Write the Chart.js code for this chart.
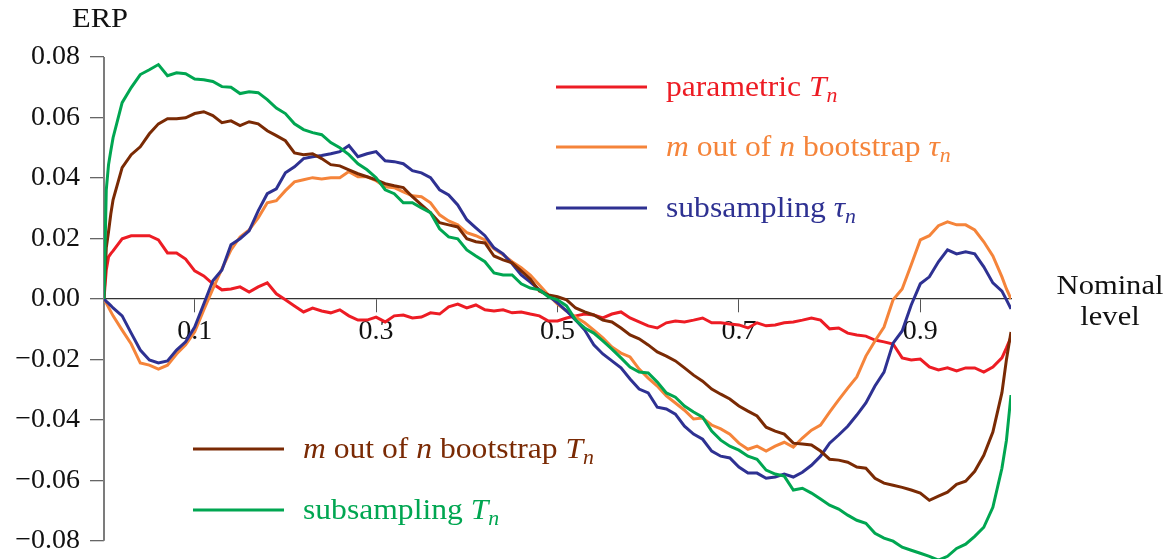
<!DOCTYPE html>
<html>
<head>
<meta charset="utf-8">
<script src="https://cdn.jsdelivr.net/npm/chart.js@4/dist/chart.umd.min.js"></script>
<style>
  html, body { margin: 0; padding: 0; overflow: hidden; background: #fff; }
</style>
</head>
<body>
<canvas id="erpChart" width="1172" height="600"></canvas>
<script>
  // nominal levels: finer steps at both ends where the curves move fast
  const levels = [0, 0.0025, 0.005, 0.0075]
    .concat(Array.from({ length: 99 }, (_, i) => (i + 1) / 100))
    .concat([0.995, 1]);

  const parametricT = [0, 0.0096, 0.0139, 0.0150,
    0.0159, 0.0199, 0.0209, 0.0209, 0.0209, 0.0195, 0.0152, 0.0152, 0.0132, 0.0093,
    0.0076, 0.0050, 0.0030, 0.0033, 0.0040, 0.0023, 0.0040, 0.0053, 0.0017, -0.0003,
    -0.0023, -0.0043, -0.0030, -0.0040, -0.0046, -0.0036, -0.0056, -0.0070, -0.0070, -0.0060,
    -0.0076, -0.0056, -0.0053, -0.0063, -0.0060, -0.0046, -0.0050, -0.0026, -0.0017, -0.0030,
    -0.0020, -0.0036, -0.0040, -0.0036, -0.0046, -0.0043, -0.0050, -0.0056, -0.0073, -0.0073,
    -0.0063, -0.0056, -0.0050, -0.0053, -0.0063, -0.0050, -0.0043, -0.0063, -0.0076, -0.0089,
    -0.0096, -0.0079, -0.0073, -0.0076, -0.0070, -0.0063, -0.0079, -0.0079, -0.0083, -0.0086,
    -0.0096, -0.0079, -0.0089, -0.0086, -0.0079, -0.0076, -0.0070, -0.0063, -0.0070, -0.0099,
    -0.0096, -0.0113, -0.0119, -0.0123, -0.0136, -0.0142, -0.0149, -0.0195, -0.0202, -0.0199,
    -0.0225, -0.0235, -0.0228, -0.0238, -0.0228, -0.0228, -0.0242, -0.0225, -0.0195,
    -0.0162, -0.0126];

  const bootstrapTau = [0, -0.0014, -0.0028, -0.0042,
    -0.0056, -0.0103, -0.0149, -0.0212, -0.0219, -0.0232, -0.0219, -0.0182, -0.0152, -0.0109,
    -0.0036, 0.0033, 0.0099, 0.0162, 0.0205, 0.0228, 0.0268, 0.0318, 0.0325, 0.0358,
    0.0387, 0.0394, 0.0401, 0.0397, 0.0401, 0.0401, 0.0421, 0.0404, 0.0404, 0.0391,
    0.0371, 0.0368, 0.0354, 0.0341, 0.0338, 0.0318, 0.0278, 0.0258, 0.0245, 0.0219,
    0.0209, 0.0195, 0.0166, 0.0146, 0.0123, 0.0103, 0.0079, 0.0046, 0.0013, -0.0017,
    -0.0040, -0.0060, -0.0079, -0.0103, -0.0129, -0.0159, -0.0179, -0.0192, -0.0232, -0.0262,
    -0.0288, -0.0321, -0.0344, -0.0368, -0.0397, -0.0394, -0.0417, -0.0430, -0.0447, -0.0477,
    -0.0497, -0.0487, -0.0503, -0.0487, -0.0474, -0.0490, -0.0460, -0.0434, -0.0417, -0.0374,
    -0.0334, -0.0295, -0.0258, -0.0189, -0.0139, -0.0093, -0.0003, 0.0033, 0.0113, 0.0195,
    0.0209, 0.0242, 0.0255, 0.0245, 0.0245, 0.0228, 0.0189, 0.0142, 0.0073,
    0.0033, 0];

  const subsamplingTau = [0, -0.0008, -0.0015, -0.0022,
    -0.0030, -0.0056, -0.0113, -0.0169, -0.0202, -0.0212, -0.0205, -0.0169, -0.0142, -0.0093,
    -0.0017, 0.0060, 0.0096, 0.0179, 0.0199, 0.0225, 0.0291, 0.0348, 0.0364, 0.0417,
    0.0437, 0.0464, 0.0470, 0.0474, 0.0480, 0.0487, 0.0507, 0.0470, 0.0480, 0.0487,
    0.0457, 0.0454, 0.0447, 0.0424, 0.0417, 0.0401, 0.0361, 0.0344, 0.0311, 0.0262,
    0.0235, 0.0209, 0.0169, 0.0149, 0.0116, 0.0079, 0.0056, 0.0030, 0.0010, -0.0013,
    -0.0040, -0.0070, -0.0103, -0.0152, -0.0182, -0.0205, -0.0228, -0.0265, -0.0298, -0.0311,
    -0.0358, -0.0364, -0.0381, -0.0421, -0.0447, -0.0464, -0.0503, -0.0520, -0.0526, -0.0556,
    -0.0576, -0.0576, -0.0593, -0.0589, -0.0579, -0.0589, -0.0573, -0.0550, -0.0520, -0.0477,
    -0.0450, -0.0421, -0.0384, -0.0344, -0.0288, -0.0242, -0.0146, -0.0106, -0.0020, 0.0050,
    0.0073, 0.0123, 0.0162, 0.0149, 0.0156, 0.0149, 0.0106, 0.0053, 0.0026,
    -0.0003, -0.0033];

  const bootstrapT = [0, 0.0169, 0.0222, 0.0281,
    0.0328, 0.0434, 0.0477, 0.0503, 0.0546, 0.0579, 0.0596, 0.0596, 0.0599, 0.0613,
    0.0619, 0.0606, 0.0583, 0.0589, 0.0573, 0.0586, 0.0579, 0.0556, 0.0540, 0.0523,
    0.0483, 0.0477, 0.0480, 0.0464, 0.0444, 0.0440, 0.0427, 0.0414, 0.0404, 0.0394,
    0.0381, 0.0374, 0.0368, 0.0338, 0.0311, 0.0285, 0.0252, 0.0245, 0.0238, 0.0199,
    0.0189, 0.0185, 0.0142, 0.0129, 0.0119, 0.0093, 0.0066, 0.0026, 0.0013, 0.0007,
    -0.0003, -0.0030, -0.0043, -0.0053, -0.0070, -0.0076, -0.0096, -0.0119, -0.0132, -0.0152,
    -0.0175, -0.0189, -0.0205, -0.0228, -0.0252, -0.0272, -0.0298, -0.0315, -0.0331, -0.0354,
    -0.0371, -0.0387, -0.0424, -0.0437, -0.0447, -0.0477, -0.0480, -0.0483, -0.0503, -0.0530,
    -0.0533, -0.0540, -0.0556, -0.0560, -0.0593, -0.0609, -0.0616, -0.0623, -0.0632, -0.0642,
    -0.0666, -0.0652, -0.0639, -0.0613, -0.0603, -0.0570, -0.0517, -0.0440, -0.0310,
    -0.0200, -0.0109];

  const subsamplingT = [0, 0.0360, 0.0444, 0.0490,
    0.0533, 0.0649, 0.0699, 0.0742, 0.0758, 0.0775, 0.0738, 0.0748, 0.0745, 0.0727,
    0.0725, 0.0719, 0.0702, 0.0700, 0.0679, 0.0685, 0.0682, 0.0659, 0.0631, 0.0613,
    0.0579, 0.0560, 0.0550, 0.0543, 0.0517, 0.0500, 0.0477, 0.0447, 0.0427, 0.0401,
    0.0361, 0.0348, 0.0318, 0.0318, 0.0301, 0.0285, 0.0232, 0.0205, 0.0199, 0.0162,
    0.0142, 0.0123, 0.0086, 0.0079, 0.0079, 0.0050, 0.0036, 0.0030, 0.0007, -0.0003,
    -0.0023, -0.0070, -0.0096, -0.0113, -0.0139, -0.0166, -0.0195, -0.0225, -0.0242, -0.0245,
    -0.0275, -0.0311, -0.0325, -0.0354, -0.0374, -0.0391, -0.0437, -0.0467, -0.0487, -0.0500,
    -0.0520, -0.0530, -0.0566, -0.0579, -0.0586, -0.0632, -0.0626, -0.0642, -0.0662, -0.0682,
    -0.0695, -0.0715, -0.0732, -0.0742, -0.0775, -0.0791, -0.0801, -0.0821, -0.0831, -0.0841,
    -0.0851, -0.0864, -0.0851, -0.0825, -0.0811, -0.0785, -0.0755, -0.0689, -0.0560,
    -0.0467, -0.0318];

  const xTicks = [0.1, 0.3, 0.5, 0.7, 0.9];
  const yTicks = [-0.08, -0.06, -0.04, -0.02, 0, 0.02, 0.04, 0.06, 0.08];

  // legend text pieces: i = italic, s = subscript
  const seriesLabels = [
    [{ t: 'parametric ' }, { t: 'T', i: 1 }, { t: 'n', i: 1, s: 1 }],
    [{ t: 'm', i: 1 }, { t: ' out of ' }, { t: 'n', i: 1 }, { t: ' bootstrap ' }, { t: '\u03C4', i: 1 }, { t: 'n', i: 1, s: 1 }],
    [{ t: 'subsampling ' }, { t: '\u03C4', i: 1 }, { t: 'n', i: 1, s: 1 }],
    [{ t: 'm', i: 1 }, { t: ' out of ' }, { t: 'n', i: 1 }, { t: ' bootstrap ' }, { t: 'T', i: 1 }, { t: 'n', i: 1, s: 1 }],
    [{ t: 'subsampling ' }, { t: 'T', i: 1 }, { t: 'n', i: 1, s: 1 }]
  ];
  const seriesValues = [parametricT, bootstrapTau, subsamplingTau, bootstrapT, subsamplingT];
  const seriesColors = ['#ED1C24', '#F5843A', '#2E3192', '#7A2A04', '#00A651'];
  // green on top, red at the bottom
  const drawOrder = [4, 3, 2, 1, 0];

  const FONT = '"Liberation Serif", "Times New Roman", serif';
  const STRETCH = 1.09; // widen the serif a little

  function drawRich(ctx, x, y, parts, color) {
    ctx.save();
    ctx.translate(x, y);
    ctx.scale(STRETCH, 1);
    ctx.fillStyle = color;
    ctx.textAlign = 'left';
    ctx.textBaseline = 'alphabetic';
    let cx = 0;
    parts.forEach(p => {
      ctx.font = (p.i ? 'italic ' : '') + (p.s ? 20 : 29) + 'px ' + FONT;
      ctx.fillText(p.t, cx, p.s ? 6 : 0);
      cx += ctx.measureText(p.t).width;
    });
    ctx.restore();
  }

  function drawCentered(ctx, text, x, y) {
    ctx.save();
    ctx.translate(x, y);
    ctx.scale(STRETCH, 1);
    ctx.fillText(text, 0, 0);
    ctx.restore();
  }

  const extras = {
    id: 'extras',
    beforeDatasetsDraw(chart) {
      // vertical axis only spans the labelled range
      const { ctx, chartArea, scales: { y } } = chart;
      ctx.save();
      ctx.strokeStyle = '#7c7c7c';
      ctx.lineWidth = 2;
      ctx.beginPath();
      ctx.moveTo(chartArea.left, y.getPixelForValue(yTicks[yTicks.length - 1]));
      ctx.lineTo(chartArea.left, y.getPixelForValue(yTicks[0]));
      ctx.stroke();
      ctx.restore();
    },
    afterDraw(chart) {
      const { ctx } = chart;
      ctx.save();
      ctx.fillStyle = '#111';
      ctx.font = '28px ' + FONT;
      ctx.textAlign = 'center';
      ctx.textBaseline = 'alphabetic';
      drawCentered(ctx, 'ERP', 100, 27);
      drawCentered(ctx, 'Nominal', 1110, 294);
      drawCentered(ctx, 'level', 1110, 325);

      const slots = [
        { x: 556, y: 87 }, { x: 556, y: 147 }, { x: 556, y: 208 },
        { x: 193, y: 449 }, { x: 193, y: 510 }
      ];
      chart.data.datasets.forEach((ds, i) => {
        const s = slots[i];
        ctx.strokeStyle = ds.borderColor;
        ctx.lineWidth = 3;
        ctx.beginPath();
        ctx.moveTo(s.x, s.y);
        ctx.lineTo(s.x + 91, s.y);
        ctx.stroke();
        drawRich(ctx, s.x + 110, s.y + 9, seriesLabels[i], ds.borderColor);
      });
      ctx.restore();
    }
  };

  new Chart(document.getElementById('erpChart').getContext('2d'), {
    type: 'line',
    data: {
      labels: levels,
      datasets: seriesValues.map((vals, i) => ({
        label: seriesLabels[i].map(p => p.t).join(''),
        data: vals.map((v, j) => ({ x: levels[j], y: v })),
        borderColor: seriesColors[i],
        borderWidth: 3,
        pointRadius: 0,
        tension: 0,
        fill: false,
        order: drawOrder[i]
      }))
    },
    options: {
      responsive: false,
      animation: false,
      layout: { padding: { left: 0, right: 161, top: 57, bottom: 41 } },
      plugins: { legend: { display: false }, tooltip: { enabled: false } },
      scales: {
        x: {
          type: 'linear',
          min: 0,
          max: 1,
          position: { y: 0 },
          afterBuildTicks: s => { s.ticks = xTicks.map(v => ({ value: v })); },
          grid: { drawOnChartArea: false, drawTicks: true, tickLength: 13, color: '#555', lineWidth: 1 },
          border: { display: true, color: '#333', width: 1.3 },
          ticks: {
            color: '#111',
            font: { family: FONT, size: 28 },
            padding: 3,
            maxRotation: 0,
            callback: v => v.toFixed(1)
          }
        },
        y: {
          type: 'linear',
          min: -0.086,
          max: 0.08,
          afterBuildTicks: s => { s.ticks = yTicks.map(v => ({ value: v })); },
          afterFit: s => { s.width = 104; },
          grid: { drawOnChartArea: false, drawTicks: true, tickLength: 14, color: '#666', lineWidth: 1.3 },
          border: { display: false },
          ticks: {
            color: '#111',
            font: { family: FONT, size: 28 },
            padding: 10,
            callback: v => (v < 0 ? '\u2212' : '') + Math.abs(v).toFixed(2)
          }
        }
      }
    },
    plugins: [extras]
  });
</script>
</body>
</html>
